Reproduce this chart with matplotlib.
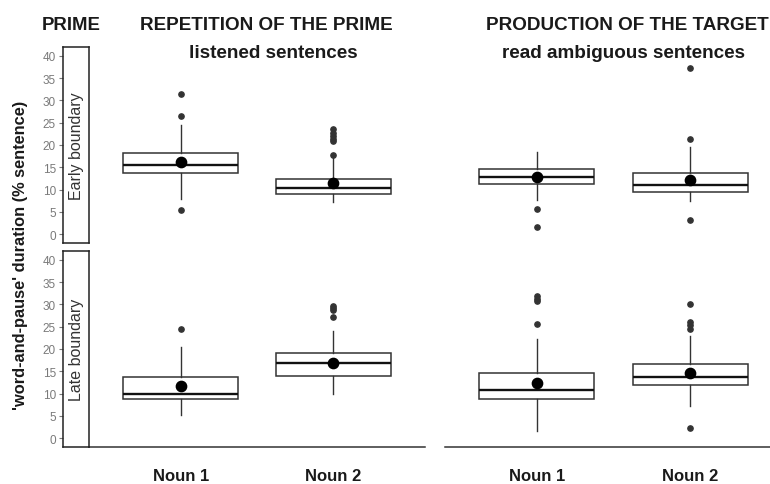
import numpy as np
import matplotlib
matplotlib.use('Agg')
import matplotlib.pyplot as plt

plt.rcParams['font.family'] = ['Liberation Sans', 'DejaVu Sans']

# categorias no eixo x
categorias = ['Noun 1', 'Noun 2']
posicoes = [1, 2]

# REPETITION OF THE PRIME - Early boundary
rep_early_q1 = [13.8, 8.9]
rep_early_med = [15.5, 10.3]
rep_early_q3 = [18.3, 12.3]
rep_early_lo = [7.8, 7.2]
rep_early_hi = [24.4, 17.2]
rep_early_mean = [16.2, 11.4]
rep_early_out = [[31.4, 26.5, 5.4], [17.7, 20.8, 21.3, 22.0, 22.6, 23.5]]

# REPETITION OF THE PRIME - Late boundary
rep_late_q1 = [8.7, 13.9]
rep_late_med = [9.9, 16.8]
rep_late_q3 = [13.8, 19.0]
rep_late_lo = [5.2, 9.9]
rep_late_hi = [20.5, 24.1]
rep_late_mean = [11.6, 16.9]
rep_late_out = [[24.4], [27.1, 28.8, 29.3, 29.7]]

# PRODUCTION OF THE TARGET - Early boundary
prod_early_q1 = [11.2, 9.5]
prod_early_med = [12.9, 11.0]
prod_early_q3 = [14.6, 13.8]
prod_early_lo = [7.7, 7.4]
prod_early_hi = [18.5, 19.6]
prod_early_mean = [12.9, 12.1]
prod_early_out = [[5.6, 1.7], [21.3, 37.3, 3.2]]

# PRODUCTION OF THE TARGET - Late boundary
prod_late_q1 = [8.8, 12.0]
prod_late_med = [10.9, 13.8]
prod_late_q3 = [14.6, 16.6]
prod_late_lo = [1.6, 7.3]
prod_late_hi = [22.2, 23.0]
prod_late_mean = [12.4, 14.6]
prod_late_out = [[25.7, 30.8, 31.3, 31.9], [24.4, 25.4, 26.1, 30.1, 2.2]]

yticks = [0, 5, 10, 15, 20, 25, 30, 35, 40]
faixas = ['Early boundary', 'Late boundary']


def monta_stats(q1, med, q3, lo, hi, out):
    return [dict(q1=q1[i], med=med[i], q3=q3[i], whislo=lo[i], whishi=hi[i],
                 fliers=out[i]) for i in range(len(q1))]


def plota_caixas(ax, q1, med, q3, lo, hi, media, out, eixo_x):
    stats = monta_stats(q1, med, q3, lo, hi, out)
    ax.bxp(stats, positions=posicoes, widths=0.75, patch_artist=True, showcaps=False,
           boxprops=dict(facecolor='white', edgecolor='#333333', linewidth=1.1),
           medianprops=dict(color='#111111', linewidth=1.7),
           whiskerprops=dict(color='#333333', linewidth=1.0),
           flierprops=dict(marker='o', markerfacecolor='#333333', markeredgecolor='#333333',
                           markersize=3.8))
    ax.scatter(posicoes, media, s=55, color='black', zorder=5)
    ax.set_xlim(0.4, 2.6)
    ax.set_ylim(-2, 42)
    ax.set_yticks([])
    ax.patch.set_visible(False)
    for lado in ['top', 'right', 'left']:
        ax.spines[lado].set_visible(False)
    if eixo_x:
        ax.spines['bottom'].set_color('#333333')
        ax.spines['bottom'].set_linewidth(1.1)
        ax.set_xticks(posicoes)
        ax.set_xticklabels(categorias, fontsize=12, fontweight='bold', color='#1a1a1a')
        ax.tick_params(axis='x', length=0, pad=15)
    else:
        ax.spines['bottom'].set_visible(False)
        ax.set_xticks([])


fig = plt.figure(figsize=(7.7, 4.85), dpi=100)

W, H = 770, 485
alt = 196 / H
linhas = [1 - 244 / H, 1 - 448 / H]

for k, base in enumerate(linhas):
    # faixa lateral com o eixo y
    fx = fig.add_axes([63 / W, base, 26 / W, alt])
    fx.set_zorder(3)
    fx.patch.set_visible(False)
    fx.set_ylim(-2, 42)
    fx.set_xticks([])
    fx.set_yticks(yticks)
    fx.tick_params(axis='y', labelsize=8.5, labelcolor='#7a7a7a', color='#7a7a7a', length=3, pad=2)
    for s in fx.spines.values():
        s.set_color('#222222')
        s.set_linewidth(1.1)
    fx.text(0.5, 0.5, faixas[k], rotation=90, ha='center', va='center', fontsize=11.5,
            color='#333333', transform=fx.transAxes)

ax1 = fig.add_axes([89 / W, linhas[0], 336 / W, alt])
plota_caixas(ax1, rep_early_q1, rep_early_med, rep_early_q3, rep_early_lo, rep_early_hi,
             rep_early_mean, rep_early_out, False)
ax2 = fig.add_axes([89 / W, linhas[1], 336 / W, alt])
plota_caixas(ax2, rep_late_q1, rep_late_med, rep_late_q3, rep_late_lo, rep_late_hi,
             rep_late_mean, rep_late_out, True)
ax3 = fig.add_axes([445 / W, linhas[0], 337 / W, alt])
plota_caixas(ax3, prod_early_q1, prod_early_med, prod_early_q3, prod_early_lo, prod_early_hi,
             prod_early_mean, prod_early_out, False)
ax4 = fig.add_axes([445 / W, linhas[1], 337 / W, alt])
plota_caixas(ax4, prod_late_q1, prod_late_med, prod_late_q3, prod_late_lo, prod_late_hi,
             prod_late_mean, prod_late_out, True)

# títulos
cor_tit = '#1a1a1a'
fig.text(71 / W, 1 - 25 / H, 'PRIME', ha='center', va='center', fontsize=13.4,
         fontweight='bold', color=cor_tit)
fig.text(266 / W, 1 - 25 / H, 'REPETITION OF THE PRIME', ha='center', va='center',
         fontsize=13.6, fontweight='bold', color=cor_tit)
fig.text(273 / W, 1 - 53 / H, 'listened sentences', ha='center', va='center',
         fontsize=13.6, fontweight='bold', color=cor_tit)
fig.text(627 / W, 1 - 25 / H, 'PRODUCTION OF THE TARGET', ha='center', va='center',
         fontsize=13.6, fontweight='bold', color=cor_tit)
fig.text(623 / W, 1 - 53 / H, 'read ambiguous sentences', ha='center', va='center',
         fontsize=13.6, fontweight='bold', color=cor_tit)
fig.text(21 / W, 1 - 255 / H, "'word-and-pause' duration (% sentence)", rotation=90,
         ha='center', va='center', fontsize=11.8, fontweight='bold', color=cor_tit)

fig.savefig('out.png', dpi=100)
